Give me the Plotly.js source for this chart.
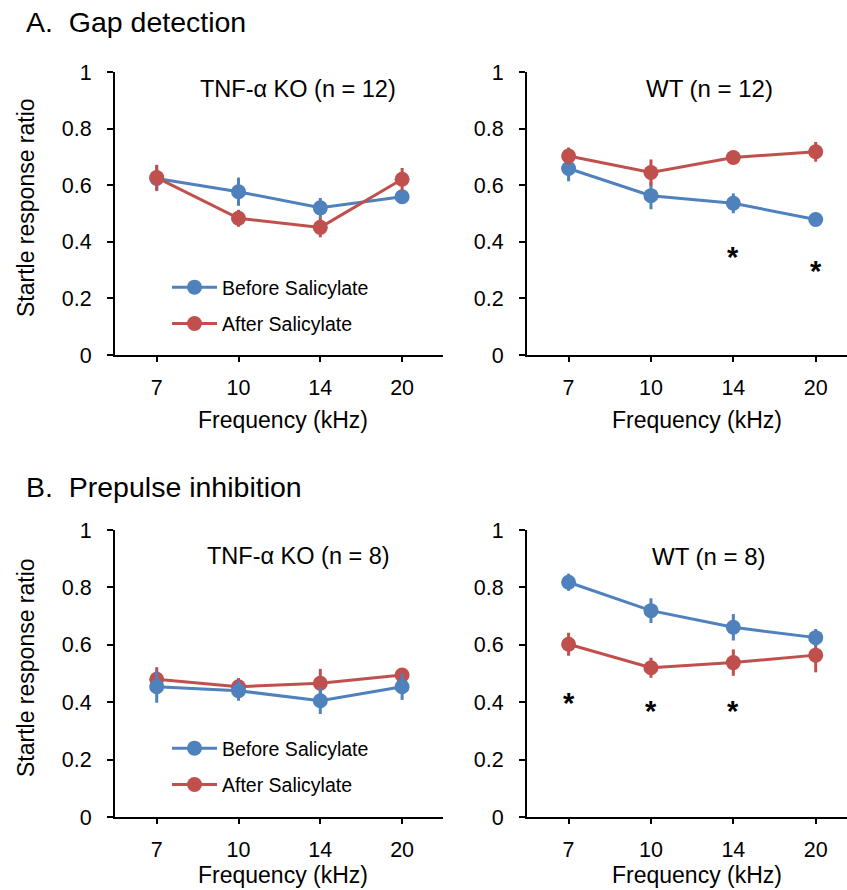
<!DOCTYPE html>
<html>
<head>
<meta charset="utf-8">
<script src="https://cdn.plot.ly/plotly-3.0.1.min.js"></script>
<style>html,body{margin:0;padding:0;background:#fff;}#chart{width:847px;height:890px;}</style>
</head>
<body>
<div id="chart"></div>
<script>
// ---- data ----
const freqs = ['7', '10', '14', '20'];
const seriesNames = ['Before Salicylate', 'After Salicylate'];

const gapKoBefore = [0.624, 0.577, 0.520, 0.559];
const gapKoBeforeErr = [0.045, 0.050, 0.035, 0.015];
const gapKoAfter = [0.627, 0.483, 0.451, 0.621];
const gapKoAfterErr = [0.045, 0.030, 0.035, 0.040];

const gapWtBefore = [0.659, 0.563, 0.536, 0.479];
const gapWtBeforeErr = [0.045, 0.048, 0.035, 0.020];
const gapWtAfter = [0.703, 0.645, 0.698, 0.718];
const gapWtAfterErr = [0.030, 0.046, 0.015, 0.035];

const ppiKoBefore = [0.454, 0.440, 0.405, 0.454];
const ppiKoBeforeErr = [0.056, 0.035, 0.046, 0.046];
const ppiKoAfter = [0.480, 0.454, 0.466, 0.495];
const ppiKoAfterErr = [0.042, 0.030, 0.050, 0.020];

const ppiWtBefore = [0.818, 0.719, 0.661, 0.625];
const ppiWtBeforeErr = [0.030, 0.043, 0.046, 0.030];
const ppiWtAfter = [0.602, 0.520, 0.538, 0.564];
const ppiWtAfterErr = [0.040, 0.035, 0.046, 0.060];

const gapStarX = ['14', '20'];
const gapStarY = [0.368, 0.318];
const ppiStarX = ['7', '10', '14'];
const ppiStarY = [0.418, 0.390, 0.390];

const yTicks = [0, 0.2, 0.4, 0.6, 0.8, 1];
const yTickText = ['0', '0.2', '0.4', '0.6', '0.8', '1'];

// ---- styling ----
const BLUE = '#4F81BD';
const RED = '#C0504D';
const FONT = 'Liberation Sans, Arial, sans-serif';
const W = 847, H = 890;

function tr(y, err, color, name, xa, ya, legend, show, rank) {
  return {
    type: 'scatter', mode: 'lines+markers', x: freqs, y: y,
    name: name, xaxis: xa, yaxis: ya, legend: legend, showlegend: show,
    legendgroup: legend + name, legendrank: rank,
    line: {color: color, width: 3},
    marker: {color: color, size: 15},
    error_y: {type: 'data', array: err, visible: true, color: color, thickness: 3, width: 0},
    cliponaxis: false
  };
}

const data = [
  tr(gapKoBefore, gapKoBeforeErr, BLUE, seriesNames[0], 'x', 'y', 'legend', true, 1),
  tr(gapKoAfter, gapKoAfterErr, RED, seriesNames[1], 'x', 'y', 'legend', true, 2),
  tr(gapWtBefore, gapWtBeforeErr, BLUE, seriesNames[0], 'x2', 'y2', 'legend', false, 1),
  tr(gapWtAfter, gapWtAfterErr, RED, seriesNames[1], 'x2', 'y2', 'legend', false, 2),
  tr(ppiKoAfter, ppiKoAfterErr, RED, seriesNames[1], 'x3', 'y3', 'legend2', true, 2),
  tr(ppiKoBefore, ppiKoBeforeErr, BLUE, seriesNames[0], 'x3', 'y3', 'legend2', true, 1),
  tr(ppiWtAfter, ppiWtAfterErr, RED, seriesNames[1], 'x4', 'y4', 'legend2', false, 2),
  tr(ppiWtBefore, ppiWtBeforeErr, BLUE, seriesNames[0], 'x4', 'y4', 'legend2', false, 1)
];

function px(x) { return x / W; }
function py(y) { return 1 - y / H; }

function xax(domain, range, anchor) {
  return {
    domain: domain, anchor: anchor, type: 'category', range: range,
    showline: true, linecolor: '#000', linewidth: 2,
    ticks: 'outside', ticklen: 5, tickwidth: 2, tickcolor: '#000',
    showgrid: false, zeroline: false, fixedrange: true,
    ticklabelstandoff: 7,
    tickfont: {family: FONT, size: 21.5, color: '#000'}
  };
}
function yax(domain, anchor) {
  return {
    domain: domain, anchor: anchor, range: [0, 1],
    tickvals: yTicks, ticktext: yTickText,
    showline: true, linecolor: '#000', linewidth: 2,
    ticks: 'outside', ticklen: 6, tickwidth: 2, tickcolor: '#000',
    showgrid: false, zeroline: false, fixedrange: true,
    ticklabelstandoff: 11,
    tickfont: {family: FONT, size: 21.5, color: '#000'}
  };
}

const leftX = [px(115), px(443)];
const rightX = [px(527), 1];
const leftRange = [-0.51, 3.5];
const rightRange = [-0.505, 3.38];
const aY = [py(355), py(72)];
const bY = [py(817), py(530)];

function txt(text, x, y, size, opts) {
  return Object.assign({
    text: text, x: px(x), y: py(y), xref: 'paper', yref: 'paper',
    showarrow: false, xanchor: 'center', yanchor: 'middle',
    font: {family: FONT, size: size, color: '#000'}
  }, opts || {});
}

const annotations = [
  txt('A.\u00a0\u00a0Gap detection', 24, 22, 28.5, {xanchor: 'left'}),
  txt('B.\u00a0\u00a0Prepulse inhibition', 24, 487, 28.5, {xanchor: 'left'}),
  txt('TNF-α KO (n = 12)', 298, 89, 23.5),
  txt('WT (n = 12)', 709, 89, 24),
  txt('TNF-α KO (n = 8)', 298, 556, 23.5),
  txt('WT (n = 8)', 709, 556, 24),
  txt('Frequency (kHz)', 283, 420, 23),
  txt('Frequency (kHz)', 697, 420, 23),
  txt('Frequency (kHz)', 283, 875, 23),
  txt('Frequency (kHz)', 697, 875, 23),
  txt('Startle response ratio', 26, 208, 23, {textangle: -90}),
  txt('Startle response ratio', 26, 668, 23, {textangle: -90})
];
gapStarX.forEach((x, i) => annotations.push({
  text: '<b>*</b>', x: freqs.indexOf(x), y: gapStarY[i], xref: 'x2', yref: 'y2', showarrow: false,
  xanchor: 'center', yanchor: 'middle', yshift: -6,
  font: {family: FONT, size: 29, color: '#000'}
}));
ppiStarX.forEach((x, i) => annotations.push({
  text: '<b>*</b>', x: freqs.indexOf(x), y: ppiStarY[i], xref: 'x4', yref: 'y4', showarrow: false,
  xanchor: 'center', yanchor: 'middle', yshift: -6,
  font: {family: FONT, size: 29, color: '#000'}
}));

function leg(x, y) {
  return {
    x: px(x), y: py(y), xanchor: 'left', yanchor: 'top',
    bgcolor: 'rgba(0,0,0,0)', borderwidth: 0, itemwidth: 45,
    traceorder: 'grouped', tracegroupgap: 8, itemclick: false, itemdoubleclick: false,
    font: {family: FONT, size: 19.5, color: '#000'}
  };
}

const layout = {
  width: W, height: H,
  margin: {l: 0, r: 0, t: 0, b: 0},
  paper_bgcolor: '#fff', plot_bgcolor: 'rgba(0,0,0,0)',
  font: {family: FONT, color: '#000'},
  xaxis: xax(leftX, leftRange, 'y'),
  yaxis: yax(aY, 'x'),
  xaxis2: xax(rightX, rightRange, 'y2'),
  yaxis2: yax(aY, 'x2'),
  xaxis3: xax(leftX, leftRange, 'y3'),
  yaxis3: yax(bY, 'x3'),
  xaxis4: xax(rightX, rightRange, 'y4'),
  yaxis4: yax(bY, 'x4'),
  legend: leg(167, 268),
  legend2: leg(167, 729),
  annotations: annotations
};

Plotly.newPlot('chart', data, layout, {displayModeBar: false, staticPlot: true});
</script>
</body>
</html>
